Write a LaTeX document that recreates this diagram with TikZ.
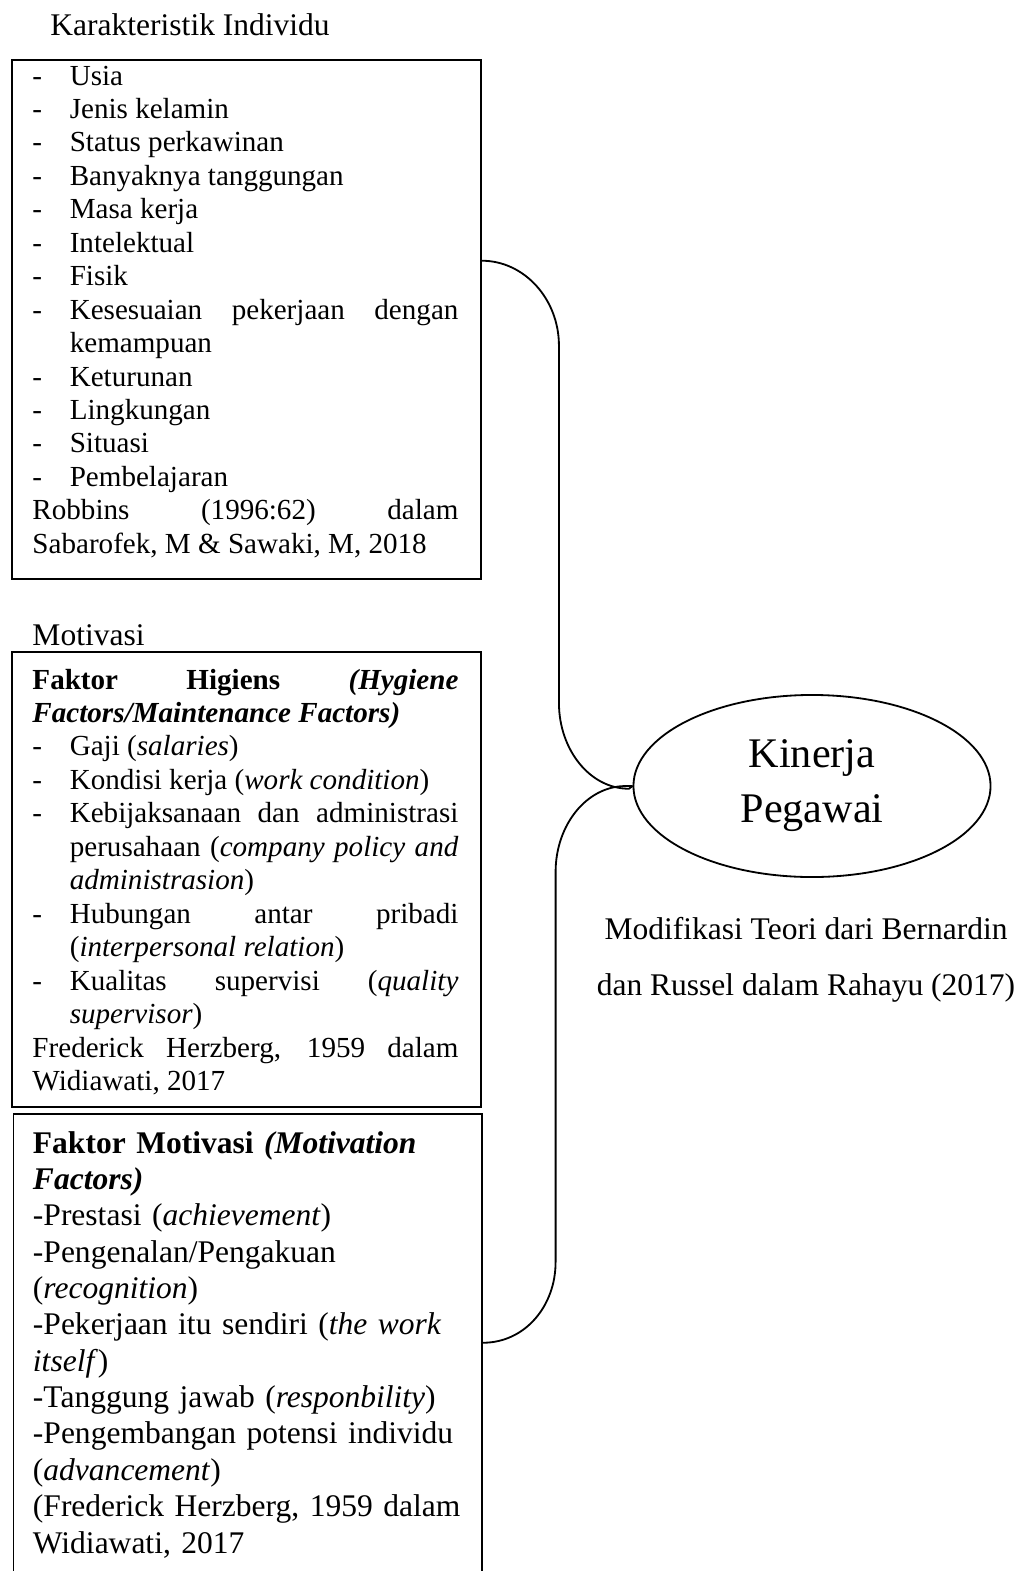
\documentclass[tikz,border=0pt]{standalone}
\usepackage{fontspec}
\setmainfont{Liberation Serif}
\usetikzlibrary{shapes.geometric}

\hyphenpenalty=10000
\hbadness=10000

% butir daftar dengan tanda strip dan indentasi gantung
\newcommand{\butir}[1]{\noindent\hangindent=15.4pt\hangafter=1\makebox[15.4pt][l]{-}#1\par}

\tikzset{
  kotak/.style={draw, line width=0.75pt, rectangle, anchor=north west, inner sep=0pt},
  isi/.style={anchor=base west, inner sep=0pt, text width=175.7pt, align=justify, font=\fontsize{12}{13.8}\selectfont},
  judul/.style={anchor=base west, inner sep=0pt, font=\fontsize{13}{15}\selectfont},
  garis/.style={line width=0.75pt}
}

\begin{document}
\begin{tikzpicture}[x=0.75pt,y=0.75pt,yscale=-0.55,xscale=0.55]
        \useasboundingbox (0,0) rectangle (1025,1571);
        \clip (0,0) rectangle (1025,1571);

        % Text Node
        \node[judul] (judulkarak) at (50,35) {Karakteristik Individu};
        %Shape: Rectangle
        \node[kotak, minimum width=193.5pt, minimum height=214.1pt] (karak) at (11,59) {};
        % Text Node
        \node[isi] (karakisi) at (32,85) {%
          \butir{Usia}
          \butir{Jenis kelamin}
          \butir{Status perkawinan}
          \butir{Banyaknya tanggungan}
          \butir{Masa kerja}
          \butir{Intelektual}
          \butir{Fisik}
          \butir{Kesesuaian pekerjaan dengan\linebreak kemampuan}
          \butir{Keturunan}
          \butir{Lingkungan}
          \butir{Situasi}
          \butir{Pembelajaran}
          \noindent Robbins (1996:62) dalam\linebreak Sabarofek, M \& Sawaki, M, 2018};

        % Text Node
        \node[judul] (judulmotiv) at (32,645) {Motivasi};
        %Shape: Rectangle
        \node[kotak, minimum width=193.5pt, minimum height=187.7pt] (higiens) at (11,651) {};
        % Text Node
        \node[isi] (higiensisi) at (32,689) {%
          \noindent\textbf{Faktor Higiens \textit{(Hygiene\linebreak Factors/Maintenance Factors)}}\par
          \butir{Gaji (\textit{salaries})}
          \butir{Kondisi kerja (\textit{work condition})}
          \butir{Kebijaksanaan dan administrasi\linebreak perusahaan (\textit{company policy and}\linebreak \textit{administrasion})}
          \butir{Hubungan antar pribadi\linebreak (\textit{interpersonal relation})}
          \butir{Kualitas supervisi (\textit{quality}\linebreak \textit{supervisor})}
          \noindent Frederick Herzberg, 1959 dalam\linebreak Widiawati, 2017};

        %Shape: Rectangle (bawah terpotong)
        \node[kotak, minimum width=193.3pt, minimum height=209.1pt] (motivasi) at (12.5,1113) {};
        % Text Node
        \node[isi, text width=185pt, align=left, font=\fontsize{13}{15}\selectfont] (motivasiisi) at (32.5,1153) {%
          \textbf{Faktor Motivasi \textit{(Motivation}}\\
          \textbf{\textit{Factors)}}\\
          -Prestasi (\textit{achievement})\\
          -Pengenalan/Pengakuan\\
          (\textit{recognition})\\
          -Pekerjaan itu sendiri (\textit{the work}\\
          \textit{itself})\\
          -Tanggung jawab (\textit{responbility})\\
          -Pengembangan potensi individu\\
          (\textit{advancement})\\
          (Frederick Herzberg, 1959 dalam\\
          Widiawati, 2017};

        %Shape: Ellipse
        \node[ellipse, draw, line width=0.75pt, minimum width=147.3pt, minimum height=75.1pt, inner sep=0pt, align=center, font=\fontsize{17.4}{22.7}\selectfont] (kinerja) at (812,786) {Kinerja\\Pegawai};
        % Text Node
        \node[align=center, inner sep=0pt, font=\fontsize{13}{23}\selectfont] (sumber) at (806,960) {Modifikasi Teori dari Bernardin\\dan Russel dalam Rahayu (2017)};

        %Curve Lines
        \draw[garis] (karak.14.4) .. controls +(42,0) and +(0,-47) .. ++(77,85) -- ++(0,357) .. controls +(0,47) and +(-39,0) .. ++(70,86) -- (kinerja.west);
        %Curve Lines
        \draw[garis] (kinerja.west) -- ++(-7,0) .. controls +(-39,0) and +(0,-47) .. ++(-70,86) -- ++(0,390) .. controls +(0,44) and +(42,0) .. (motivasi.6);

\end{tikzpicture}
\end{document}
